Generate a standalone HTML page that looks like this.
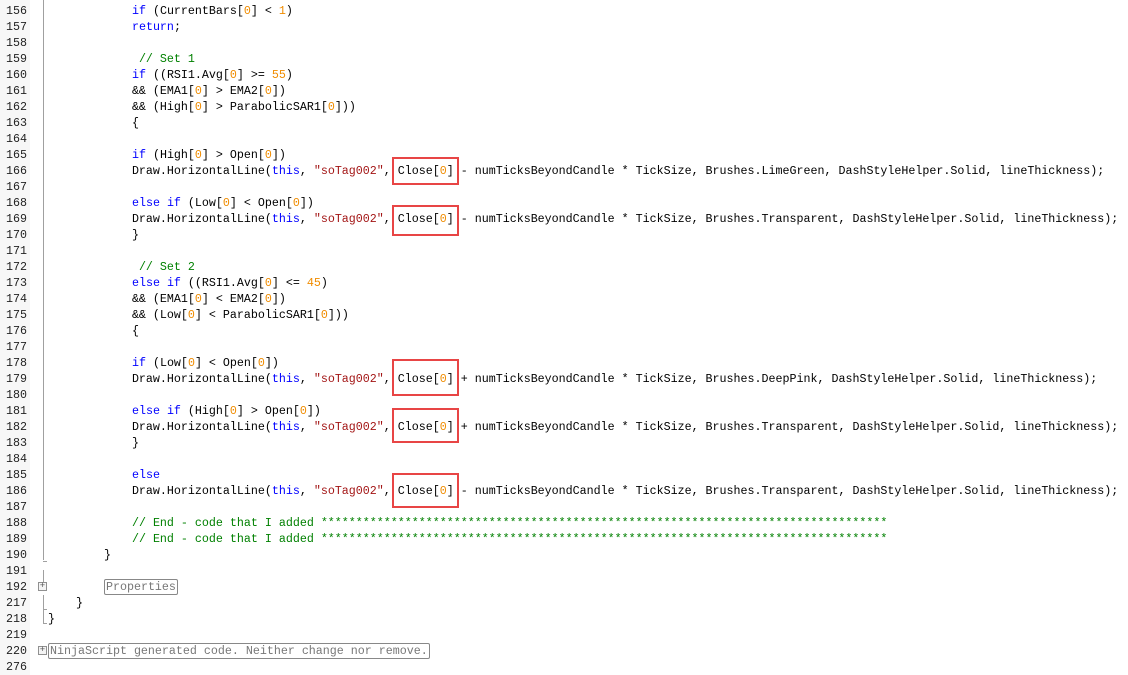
<!DOCTYPE html>
<html><head><meta charset="utf-8"><style>
body{margin:0;width:1128px;height:675px;background:#fff;overflow:hidden;position:relative;font-family:"Liberation Mono",monospace;font-size:11.67px;}
.ln{position:absolute;left:0;width:27px;text-align:right;color:#222;height:16px;line-height:16px;}
.c{position:absolute;left:48px;white-space:pre;color:#000;height:16px;line-height:16px;}
.k{color:#0000ff}.n{color:#f08c00}.s{color:#a31515}.g{color:#008000}
.box{position:absolute;border:2px solid #e84545;box-sizing:border-box;}
.vl{position:absolute;left:43px;width:1px;background:#a0a0a0;}
.fold{position:absolute;left:38px;width:9px;height:9px;border:1px solid #909090;box-sizing:border-box;background:#f4f4f4;font-size:9px;line-height:7px;text-align:center;color:#555;}
.col{border:1px solid #888;border-radius:2px;color:#777;padding:0 1px;}
</style></head><body>
<div style="position:absolute;left:0;top:0;width:30px;height:675px;background:#f7f7f7"></div>
<div class="vl" style="top:0;height:560px"></div>
<div class="vl" style="top:570px;height:12px"></div>
<div class="vl" style="top:595px;height:28px"></div>
<div style="position:absolute;left:43px;top:561px;width:4px;height:1px;background:#a0a0a0"></div>
<div style="position:absolute;left:43px;top:609px;width:4px;height:1px;background:#a0a0a0"></div>
<div style="position:absolute;left:43px;top:623px;width:4px;height:1px;background:#a0a0a0"></div>
<div class="fold" style="top:582px">+</div>
<div class="fold" style="top:646px">+</div>

<div class="ln" style="top:3px">156</div><div class="c" style="top:3px">            <span class="k">if</span> (CurrentBars[<span class="n">0</span>] &lt; <span class="n">1</span>)</div>
<div class="ln" style="top:19px">157</div><div class="c" style="top:19px">            <span class="k">return</span>;</div>
<div class="ln" style="top:35px">158</div>
<div class="ln" style="top:51px">159</div><div class="c" style="top:51px">             <span class="g">// Set 1</span></div>
<div class="ln" style="top:67px">160</div><div class="c" style="top:67px">            <span class="k">if</span> ((RSI1.Avg[<span class="n">0</span>] &gt;= <span class="n">55</span>)</div>
<div class="ln" style="top:83px">161</div><div class="c" style="top:83px">            &amp;&amp; (EMA1[<span class="n">0</span>] &gt; EMA2[<span class="n">0</span>])</div>
<div class="ln" style="top:99px">162</div><div class="c" style="top:99px">            &amp;&amp; (High[<span class="n">0</span>] &gt; ParabolicSAR1[<span class="n">0</span>]))</div>
<div class="ln" style="top:115px">163</div><div class="c" style="top:115px">            {</div>
<div class="ln" style="top:131px">164</div>
<div class="ln" style="top:147px">165</div><div class="c" style="top:147px">            <span class="k">if</span> (High[<span class="n">0</span>] &gt; Open[<span class="n">0</span>])</div>
<div class="ln" style="top:163px">166</div><div class="c" style="top:163px">            Draw.HorizontalLine(<span class="k">this</span>, <span class="s">"soTag002"</span>, Close[<span class="n">0</span>] - numTicksBeyondCandle * TickSize, Brushes.LimeGreen, DashStyleHelper.Solid, lineThickness);</div>
<div class="ln" style="top:179px">167</div>
<div class="ln" style="top:195px">168</div><div class="c" style="top:195px">            <span class="k">else</span> <span class="k">if</span> (Low[<span class="n">0</span>] &lt; Open[<span class="n">0</span>])</div>
<div class="ln" style="top:211px">169</div><div class="c" style="top:211px">            Draw.HorizontalLine(<span class="k">this</span>, <span class="s">"soTag002"</span>, Close[<span class="n">0</span>] - numTicksBeyondCandle * TickSize, Brushes.Transparent, DashStyleHelper.Solid, lineThickness);</div>
<div class="ln" style="top:227px">170</div><div class="c" style="top:227px">            }</div>
<div class="ln" style="top:243px">171</div>
<div class="ln" style="top:259px">172</div><div class="c" style="top:259px">             <span class="g">// Set 2</span></div>
<div class="ln" style="top:275px">173</div><div class="c" style="top:275px">            <span class="k">else</span> <span class="k">if</span> ((RSI1.Avg[<span class="n">0</span>] &lt;= <span class="n">45</span>)</div>
<div class="ln" style="top:291px">174</div><div class="c" style="top:291px">            &amp;&amp; (EMA1[<span class="n">0</span>] &lt; EMA2[<span class="n">0</span>])</div>
<div class="ln" style="top:307px">175</div><div class="c" style="top:307px">            &amp;&amp; (Low[<span class="n">0</span>] &lt; ParabolicSAR1[<span class="n">0</span>]))</div>
<div class="ln" style="top:323px">176</div><div class="c" style="top:323px">            {</div>
<div class="ln" style="top:339px">177</div>
<div class="ln" style="top:355px">178</div><div class="c" style="top:355px">            <span class="k">if</span> (Low[<span class="n">0</span>] &lt; Open[<span class="n">0</span>])</div>
<div class="ln" style="top:371px">179</div><div class="c" style="top:371px">            Draw.HorizontalLine(<span class="k">this</span>, <span class="s">"soTag002"</span>, Close[<span class="n">0</span>] + numTicksBeyondCandle * TickSize, Brushes.DeepPink, DashStyleHelper.Solid, lineThickness);</div>
<div class="ln" style="top:387px">180</div>
<div class="ln" style="top:403px">181</div><div class="c" style="top:403px">            <span class="k">else</span> <span class="k">if</span> (High[<span class="n">0</span>] &gt; Open[<span class="n">0</span>])</div>
<div class="ln" style="top:419px">182</div><div class="c" style="top:419px">            Draw.HorizontalLine(<span class="k">this</span>, <span class="s">"soTag002"</span>, Close[<span class="n">0</span>] + numTicksBeyondCandle * TickSize, Brushes.Transparent, DashStyleHelper.Solid, lineThickness);</div>
<div class="ln" style="top:435px">183</div><div class="c" style="top:435px">            }</div>
<div class="ln" style="top:451px">184</div>
<div class="ln" style="top:467px">185</div><div class="c" style="top:467px">            <span class="k">else</span></div>
<div class="ln" style="top:483px">186</div><div class="c" style="top:483px">            Draw.HorizontalLine(<span class="k">this</span>, <span class="s">"soTag002"</span>, Close[<span class="n">0</span>] - numTicksBeyondCandle * TickSize, Brushes.Transparent, DashStyleHelper.Solid, lineThickness);</div>
<div class="ln" style="top:499px">187</div>
<div class="ln" style="top:515px">188</div><div class="c" style="top:515px">            <span class="g">// End - code that I added *********************************************************************************</span></div>
<div class="ln" style="top:531px">189</div><div class="c" style="top:531px">            <span class="g">// End - code that I added *********************************************************************************</span></div>
<div class="ln" style="top:547px">190</div><div class="c" style="top:547px">        }</div>
<div class="ln" style="top:563px">191</div>
<div class="ln" style="top:579px">192</div><div class="c" style="top:579px">        <span class="col">Properties</span></div>
<div class="ln" style="top:595px">217</div><div class="c" style="top:595px">    }</div>
<div class="ln" style="top:611px">218</div><div class="c" style="top:611px">}</div>
<div class="ln" style="top:627px">219</div>
<div class="ln" style="top:643px">220</div><div class="c" style="top:643px"><span class="col">NinjaScript generated code. Neither change nor remove.</span></div>
<div class="ln" style="top:659px">276</div>

<div class="box" style="left:392px;top:157px;width:67px;height:28px"></div>
<div class="box" style="left:392px;top:205px;width:67px;height:31px"></div>
<div class="box" style="left:392px;top:359px;width:67px;height:37px"></div>
<div class="box" style="left:392px;top:408px;width:67px;height:35px"></div>
<div class="box" style="left:392px;top:473px;width:67px;height:35px"></div>
</body></html>
